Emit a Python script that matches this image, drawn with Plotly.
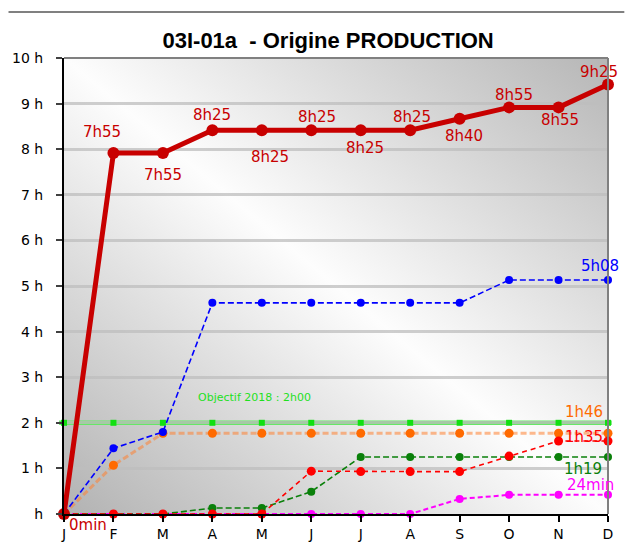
import base64
import plotly.graph_objects as go

# ---------------- data ----------------
months = ["J", "F", "M", "A", "M", "J", "J", "A", "S", "O", "N", "D"]
y_tick_values = [0, 1, 2, 3, 4, 5, 6, 7, 8, 9, 10]
y_tick_labels = ["h", "1 h", "2 h", "3 h", "4 h", "5 h", "6 h", "7 h", "8 h", "9 h", "10 h"]

total_hours = [0, 7.917, 7.917, 8.417, 8.417, 8.417, 8.417, 8.417, 8.667, 8.917, 8.917, 9.417]
total_labels = ["0min", "7h55", "7h55", "8h25", "8h25", "8h25", "8h25", "8h25", "8h40", "8h55", "8h55", "9h25"]

blue_hours = [0, 1.44, 1.80, 4.63, 4.63, 4.63, 4.63, 4.63, 4.63, 5.13, 5.13, 5.13]
orange_hours = [0, 1.07, 1.77, 1.77, 1.77, 1.77, 1.77, 1.77, 1.77, 1.77, 1.77, 1.77]
red_hours = [0, 0, 0, 0, 0, 0.94, 0.93, 0.93, 0.93, 1.27, 1.60, 1.60]
green_hours = [0, 0, 0, 0.13, 0.13, 0.49, 1.25, 1.25, 1.25, 1.25, 1.25, 1.25]
magenta_hours = [0, 0, 0, 0, 0, 0, 0, 0, 0.33, 0.42, 0.42, 0.42]

end_labels = {"blue": "5h08", "orange": "1h46", "red": "1h35", "green": "1h19", "magenta": "24min"}

objective = 2.0
objective_text = "Objectif 2018 : 2h00"
title_text = "03I-01a  - Origine PRODUCTION"

# ---------------- styles ----------------
x = list(range(len(months)))
LBL_FONT = "DejaVu Sans"

fig = go.Figure()

# gradient background (svg)
svg = (
    '<svg xmlns="http://www.w3.org/2000/svg" width="550" height="456" viewBox="0 0 550 456" '
    'preserveAspectRatio="none"><defs><linearGradient id="g" x1="0" y1="1" x2="1" y2="0">'
    '<stop offset="0" stop-color="#b2b2b2"/><stop offset="0.5" stop-color="#fdfdfd"/>'
    '<stop offset="1" stop-color="#b6b6b6"/></linearGradient></defs>'
    '<rect x="0" y="0" width="550" height="456" fill="url(#g)"/></svg>'
)
svg_uri = "data:image/svg+xml;base64," + base64.b64encode(svg.encode()).decode()

fig.add_layout_image(dict(source=svg_uri, xref="paper", yref="paper", x=0, y=1,
                          sizex=1, sizey=1, xanchor="left", yanchor="top",
                          sizing="stretch", layer="below"))

# objective line (shape) + markers
fig.add_shape(type="line", xref="paper", yref="y", x0=-0.009, x1=1.007,
              y0=objective, y1=objective, line=dict(color="#66e866", width=4.5), layer="between")
fig.add_trace(go.Scatter(x=x, y=[objective] * len(x), mode="markers",
                         marker=dict(symbol="square", size=6, color="#11e011"),
                         cliponaxis=False, hoverinfo="skip"))

fig.add_trace(go.Scatter(x=x, y=magenta_hours, mode="lines+markers",
                         line=dict(color="#ff00ff", width=2, dash="5px,3px"),
                         marker=dict(size=8, color="#ff00ff"), cliponaxis=False))
fig.add_trace(go.Scatter(x=x, y=green_hours, mode="lines+markers",
                         line=dict(color="#0a800a", width=1.6, dash="6px,3px"),
                         marker=dict(size=8, color="#0a800a"), cliponaxis=False))
fig.add_trace(go.Scatter(x=x, y=orange_hours, mode="lines+markers",
                         line=dict(color="rgba(255,130,50,0.55)", width=3, dash="6px,3px"),
                         marker=dict(size=9, color="#ff6a00"), cliponaxis=False))
fig.add_trace(go.Scatter(x=x, y=blue_hours, mode="lines+markers",
                         line=dict(color="#0000ff", width=1.6, dash="6px,3px"),
                         marker=dict(size=8, color="#0000ff"), cliponaxis=False))
fig.add_trace(go.Scatter(x=x, y=red_hours, mode="lines+markers",
                         line=dict(color="#ff0000", width=1.6, dash="5px,4px"),
                         marker=dict(size=9, color="#ff0000"), cliponaxis=False))
fig.add_trace(go.Scatter(x=x, y=total_hours, mode="lines+markers",
                         line=dict(color="#c80000", width=5),
                         marker=dict(size=12, color="#c80000"), cliponaxis=False))

# label offsets (px): (dx, dy) with dy positive downward
total_offsets = [(24, 11), (-11, -21), (0, 22), (0, -15), (8, 27), (6, -13),
                 (4, 18), (2, -13), (4, 17), (5, -12), (1, 13), (-9, -13)]
annotations = []
for i, (lbl, (dx, dy)) in enumerate(zip(total_labels, total_offsets)):
    annotations.append(dict(x=x[i], y=total_hours[i], text=lbl, showarrow=False,
                            xshift=dx, yshift=-dy, xanchor="center", yanchor="middle",
                            font=dict(family=LBL_FONT, size=15, color="#c80000")))

end_series = [("blue", blue_hours, "#0000ff", (-8, -14)),
              ("orange", orange_hours, "#ff6a00", (-24, -21)),
              ("red", red_hours, "#ff0000", (-24, -4)),
              ("green", green_hours, "#0a800a", (-25, 12)),
              ("magenta", magenta_hours, "#ff00ff", (-18, -10))]
for key, vals, col, (dx, dy) in end_series:
    annotations.append(dict(x=x[-1], y=vals[-1], text=end_labels[key], showarrow=False,
                            xshift=dx, yshift=-dy, xanchor="center", yanchor="middle",
                            font=dict(family=LBL_FONT, size=15, color=col)))

annotations.append(dict(x=3.86, y=objective, text=objective_text, showarrow=False,
                        yshift=25, xanchor="center", yanchor="middle",
                        font=dict(family=LBL_FONT, size=11, color="#1ee01e")))

# borders
shapes = [
    dict(type="line", xref="paper", yref="paper", x0=0, x1=1, y0=1, y1=1,
         line=dict(color="#808080", width=2)),
    dict(type="line", xref="paper", yref="paper", x0=1, x1=1, y0=0, y1=1,
         line=dict(color="#808080", width=2)),
    dict(type="line", xref="paper", yref="paper", x0=-0.102, x1=1.03, y0=1.1009, y1=1.1009,
         line=dict(color="#808080", width=2)),
]
for s in shapes:
    fig.add_shape(**s)

fig.update_layout(
    width=625, height=560,
    margin=dict(l=63, r=12, t=58, b=46),
    paper_bgcolor="white", plot_bgcolor="rgba(0,0,0,0)",
    showlegend=False,
    title=dict(text=title_text, x=0.525, xref="container", xanchor="center",
               y=1 - 40 / 560, yref="container", yanchor="middle",
               font=dict(family="Liberation Sans", size=22, color="black", weight="bold")),
    annotations=annotations,
)
fig.update_xaxes(range=[0, 11], tickvals=x, ticktext=months, showgrid=False,
                 showline=True, linecolor="black", linewidth=2, zeroline=False,
                 ticks="outside", ticklen=6, tickwidth=2, tickcolor="black",
                 tickfont=dict(family=LBL_FONT, size=14, color="black"))
fig.update_yaxes(range=[0, 10], tickvals=y_tick_values, ticktext=y_tick_labels,
                 showgrid=True, gridcolor="rgba(190,190,190,0.75)", gridwidth=3,
                 showline=True, linecolor="black", linewidth=2, zeroline=False,
                 ticks="outside", ticklen=6, tickwidth=2, tickcolor="#404040",
                 ticklabelstandoff=10,
                 tickfont=dict(family=LBL_FONT, size=14, color="black"))

fig.write_html("out.html", config={"displayModeBar": False},
               post_script="document.body.style.margin='0';")
